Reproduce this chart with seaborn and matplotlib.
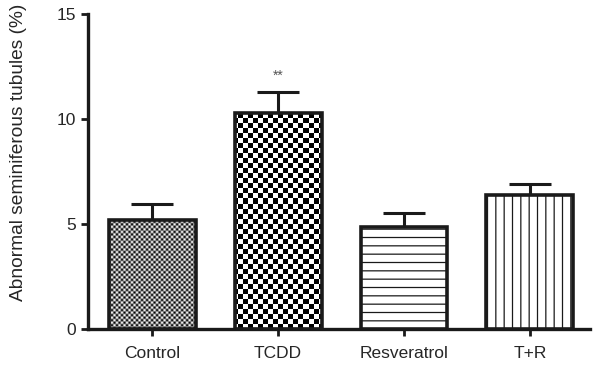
import numpy as np
import matplotlib
matplotlib.use("Agg")
import matplotlib.pyplot as plt
import seaborn as sns

groups = ["Control", "TCDD", "Resveratrol", "T+R"]
means = [5.19, 10.29, 4.86, 6.38]
sems = [0.76, 1.0, 0.66, 0.52]
yticks = [0, 5, 10, 15]
ylabel = "Abnormal seminiferous tubules (%)"
sig = ["", "**", "", ""]

sns.set_theme(style="ticks")
plt.rcParams['font.family'] = ['Liberation Sans', 'DejaVu Sans']
plt.rcParams['hatch.linewidth'] = 0.9
plt.rcParams['hatch.color'] = '#555555'

fig = plt.figure(figsize=(5.95, 3.67), dpi=100)
ax = fig.add_axes([0.148, 0.1035, 0.844, 0.8585])

sns.barplot(x=groups, y=means, color="white", edgecolor="#1a1a1a",
            linewidth=2.6, width=0.69, saturation=1, ax=ax, zorder=3)

ax.errorbar(range(len(groups)), means, yerr=[np.zeros(len(sems)), sems],
            fmt="none", ecolor="#1a1a1a", elinewidth=2.2, capsize=14.8,
            capthick=2.2, zorder=2)

ax.set_xlim(-0.51, 3.48)
ax.set_ylim(0, 15)
ax.set_yticks(yticks)
ax.set_ylabel(ylabel, fontsize=13.8)
ax.yaxis.set_label_coords(-0.122, 0.56)
ax.tick_params(axis="both", labelsize=12.5, width=2, length=5, color="#1a1a1a")
ax.tick_params(axis="x", pad=7)
for s in ["left", "bottom"]:
    ax.spines[s].set_linewidth(2.4)
    ax.spines[s].set_color("#1a1a1a")
sns.despine(ax=ax)

fig.canvas.draw()
patches = ax.patches
patches[2].set_hatch("--")
patches[3].set_hatch("||")

bbox = ax.get_window_extent()
def checker(cell_px):
    nx = int(np.ceil(bbox.width / cell_px))
    ny = int(np.ceil(bbox.height / cell_px))
    yy, xx = np.mgrid[0:ny, 0:nx]
    arr = ((xx + yy) % 2).astype(float)
    return arr, nx * cell_px, ny * cell_px

x0, x1 = ax.get_xlim()
y0, y1 = ax.get_ylim()
for idx, cell in [(0, 2.5), (1, 5.0)]:
    arr, wpx, hpx = checker(cell)
    ex1 = x0 + (x1 - x0) * wpx / bbox.width
    ey1 = y0 + (y1 - y0) * hpx / bbox.height
    patches[idx].set_facecolor("none")
    im = ax.imshow(arr, cmap="gray", vmin=0, vmax=1, extent=[x0, ex1, y0, ey1],
                   origin="lower", interpolation="antialiased", aspect="auto",
                   zorder=2.5)
    im.set_clip_path(patches[idx])
ax.set_xlim(x0, x1)
ax.set_ylim(y0, y1)

for i, t in enumerate(sig):
    if t:
        ax.text(i, means[i] + sems[i] + 0.45, t, ha="center", va="bottom",
                fontsize=10, color="#555555")

ax.set_xlabel("")
fig.savefig("out.png", dpi=100)
